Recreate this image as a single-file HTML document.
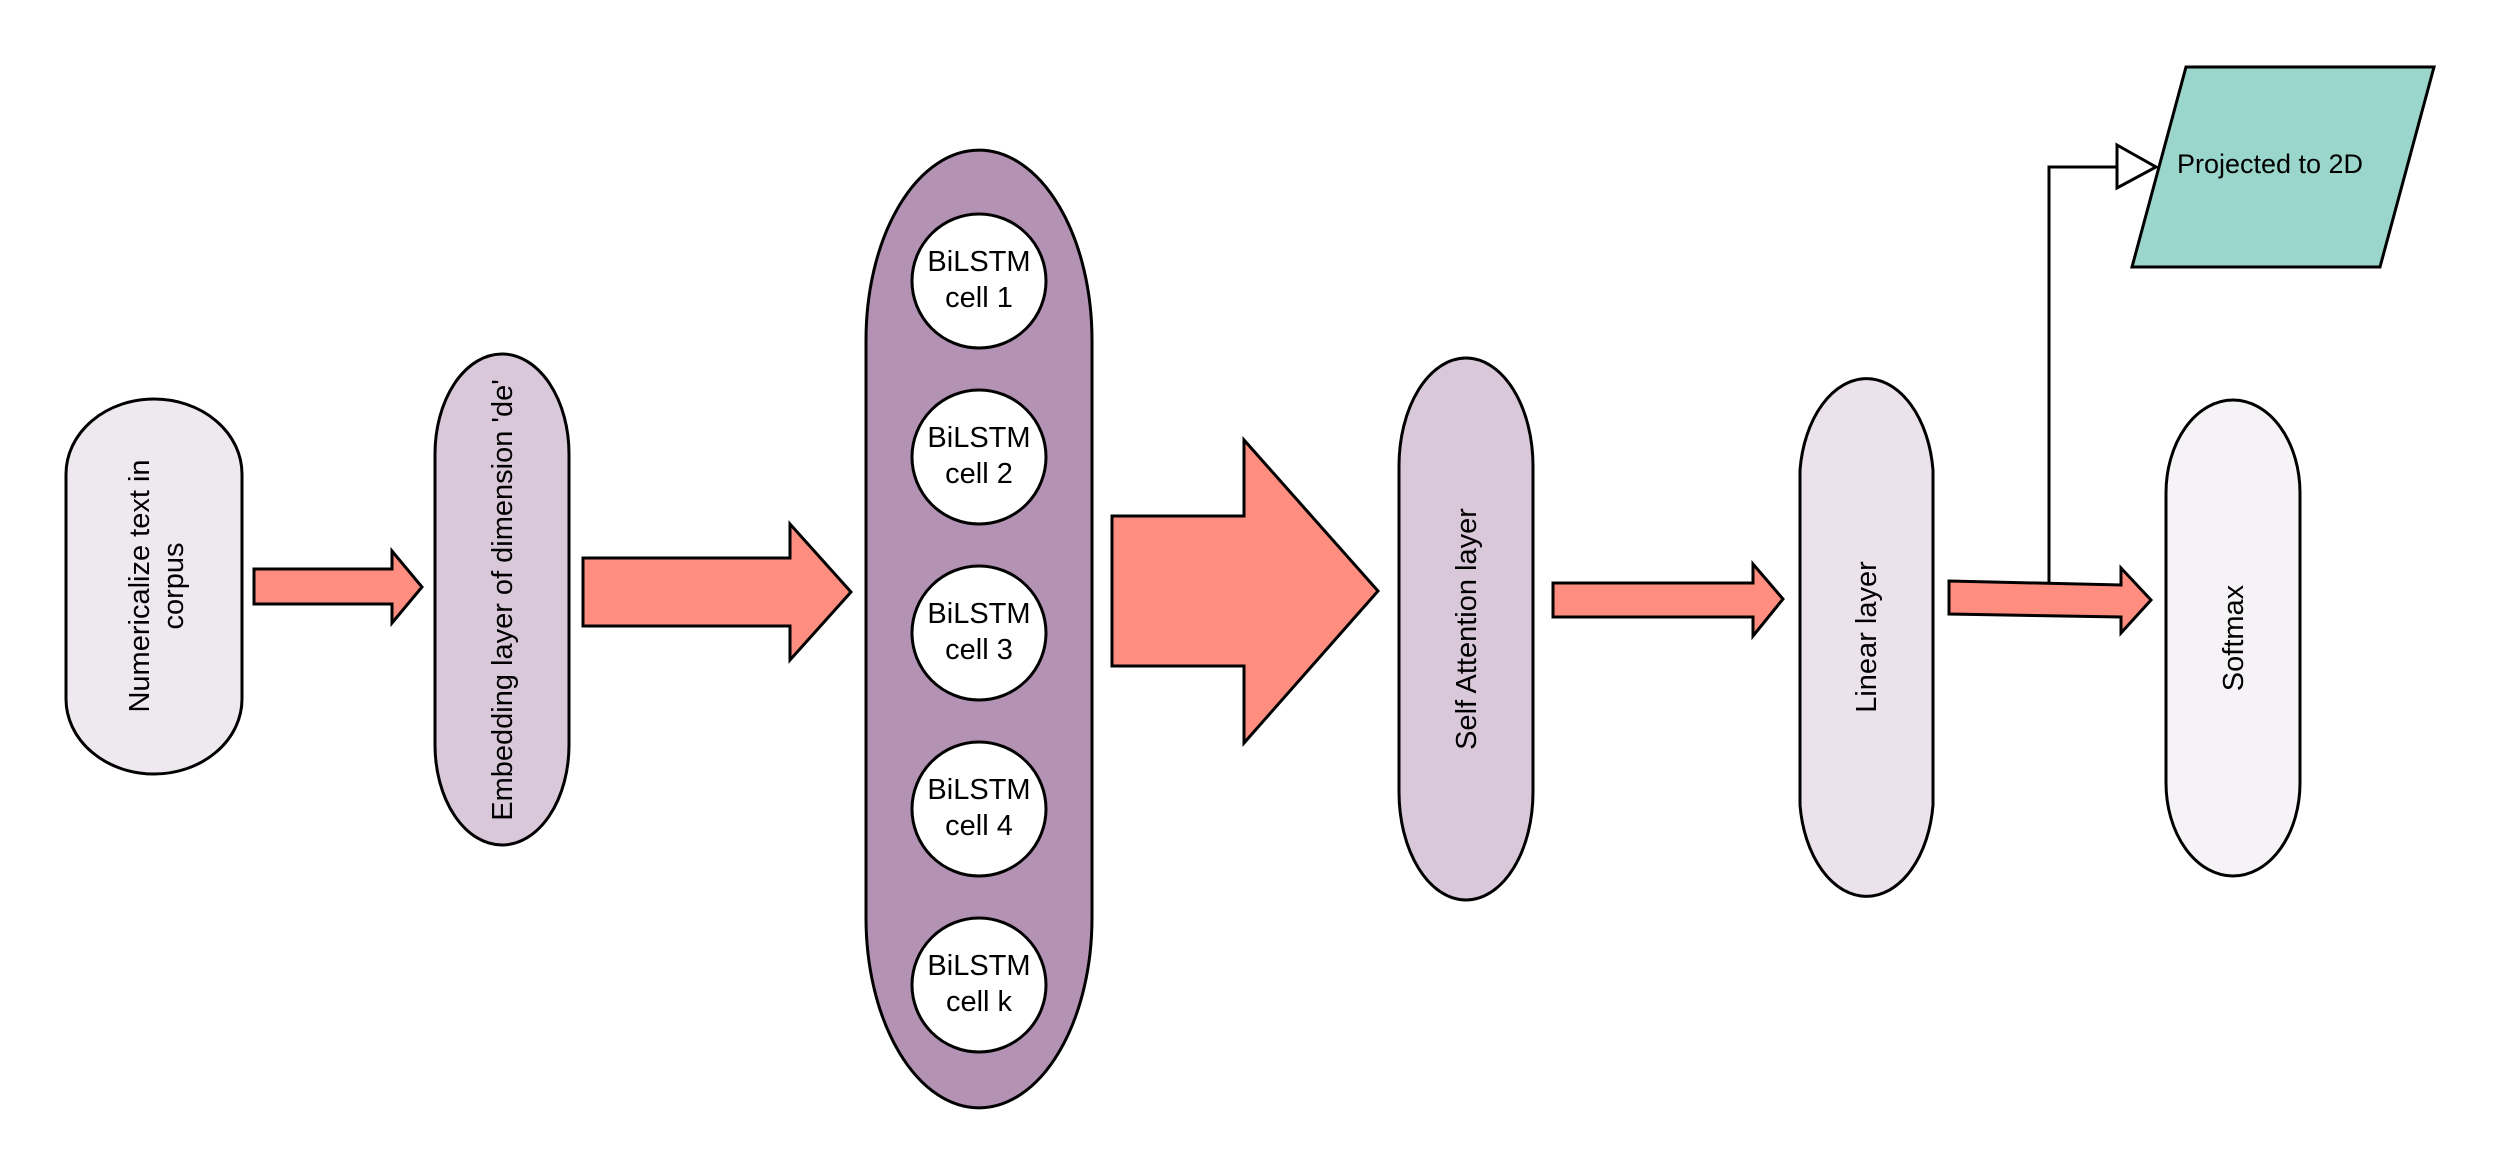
<!DOCTYPE html>
<html><head><meta charset="utf-8"><style>
html,body{margin:0;padding:0;background:#fff;}
svg{display:block;}
text{font-family:"Liberation Sans",sans-serif;font-size:29px;fill:#000;}
</style></head><body>
<svg width="2500" height="1175" viewBox="0 0 2500 1175" xmlns="http://www.w3.org/2000/svg">
<g stroke="#000" stroke-width="3" stroke-linejoin="miter">
<path d="M66,474 A88,75 0 0 1 242,474 L242,699 A88,75 0 0 1 66,699 Z" fill="#EEE8EF"/>
<path d="M254,569 L392,569 L392,551 L422,587 L392,623 L392,604 L254,604 Z" fill="#FF8E80"/>
<path d="M435,454 A67,100 0 0 1 569,454 L569,745 A67,100 0 0 1 435,745 Z" fill="#D9C8DA"/>
<path d="M583,558 L790,558 L790,524 L851,592 L790,660 L790,626 L583,626 Z" fill="#FF8E80"/>
<path d="M866,340 A113,190 0 0 1 1092,340 L1092,918 A113,190 0 0 1 866,918 Z" fill="#B392B3"/>
<circle cx="979" cy="281" r="67" fill="#fff"/>
<circle cx="979" cy="457" r="67" fill="#fff"/>
<circle cx="979" cy="633" r="67" fill="#fff"/>
<circle cx="979" cy="809" r="67" fill="#fff"/>
<circle cx="979" cy="985" r="67" fill="#fff"/>
<path d="M1112,516 L1244,516 L1244,440 L1378,591 L1244,743 L1244,666 L1112,666 Z" fill="#FF8E80"/>
<path d="M1399,466 A67,108 0 0 1 1533,466 L1533,792 A67,108 0 0 1 1399,792 Z" fill="#D9C8DA"/>
<path d="M1553,583 L1753,583 L1753,564 L1783,599 L1753,636 L1753,617 L1553,617 Z" fill="#FF8E80"/>
<path d="M1800,470 A67,104 0 0 1 1933,470 L1933,805 A67,104 0 0 1 1800,805 Z" fill="#ECE2EC"/>
<path d="M1949,581 L2121,585 L2121,568 L2151,600 L2121,633 L2121,617 L1949,614 Z" fill="#FF8E80"/>
<path d="M2166,493 A67,93 0 0 1 2300,493 L2300,783 A67,93 0 0 1 2166,783 Z" fill="#F5F3F6"/>
<path d="M2049,583 L2049,167 L2117,167" fill="none"/>
<path d="M2117,145 L2156,167 L2117,188 Z" fill="#fff"/>
<path d="M2186,67 L2434,67 L2380,267 L2132,267 Z" fill="#9AD6CB"/>
</g>
<g text-anchor="middle">
<text transform="translate(154,586) rotate(-90)"><tspan x="0" y="-5">Numericalize text in</tspan><tspan x="0" y="29">corpus</tspan></text>
<text transform="translate(502,600) rotate(-90)" y="10">Embedding layer of dimension 'de'</text>
<text transform="translate(1466,629) rotate(-90)" y="10">Self Attention layer</text>
<text transform="translate(1866,637) rotate(-90)" y="10">Linear layer</text>
<text transform="translate(2233,638) rotate(-90)" y="10">Softmax</text>
<text x="2270" y="173" style="font-size:27px">Projected to 2D</text>
<text x="979" y="271">BiLSTM</text><text x="979" y="307">cell 1</text>
<text x="979" y="447">BiLSTM</text><text x="979" y="483">cell 2</text>
<text x="979" y="623">BiLSTM</text><text x="979" y="659">cell 3</text>
<text x="979" y="799">BiLSTM</text><text x="979" y="835">cell 4</text>
<text x="979" y="975">BiLSTM</text><text x="979" y="1011">cell k</text>
</g>
</svg>
</body></html>
